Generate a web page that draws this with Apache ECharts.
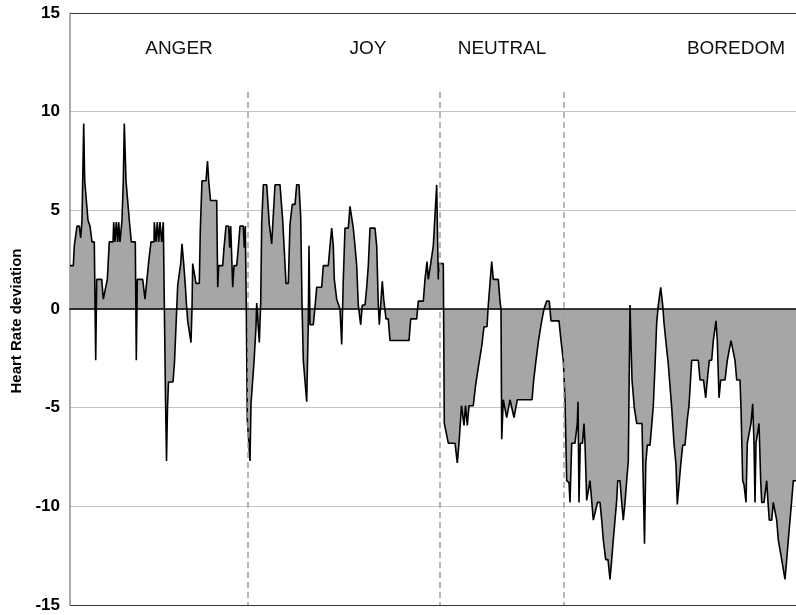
<!DOCTYPE html>
<html>
<head>
<meta charset="utf-8">
<script src="https://cdn.jsdelivr.net/npm/echarts@6/dist/echarts.min.js"></script>
<style>
html,body{margin:0;padding:0;background:#fff;}
#chart{width:796px;height:615px;}
</style>
</head>
<body>
<div id="chart"></div>
<script>
// sample index (time) and heart-rate deviation values
const sampleIndex = [
0,3.3,4.3,6,7,9.3,10.7,12,13.7,14.7,16.7,18,20,22,24.3,25.7,26.7,31.7,33.3,35.3,37.3,39.3,43,43.7,45,46.3,47.7,48.7,50,52,53.3,54.3,56,57.7,59.3,61.3,65.3,66.3,67.3,72.7,75,76.7,78.7,81,84,84.3,86,87.3,88.7,90,91.7,93.3,94.5,
95.5,96.5,97.5,98.5,103,104.5,106,107.7,109,110.7,112,113.7,115.3,116.5,117.7,119,121,122,122.7,124.7,126,129.3,130.3,132,136,137.5,138.7,139.5,140.5,146.7,147.7,148.7,152.7,154,156,158.7,159.7,160.7,162,162.7,164,166.7,168.3,170,173.3,174.3,175.3,176.3,
177.3,178.3,180,181,183,184,186,186.7,187.7,189.3,190.7,191.7,193.3,196.7,199.3,201.7,203.3,205,210,212.7,216,218.3,220,222.3,225,226.7,229,230.7,232,233.3,235,236.7,238.3,239,240,243.3,245,246.7,251.7,253.3,258.3,260,261.7,263.3,264.3,266.7,270,271.7,273.3,275,278.3,280,281.7,283.3,285,286.7,288.3,290.7,292.3,295,296.7,298.3,300,305,306.7,308.3,309.3,311,312.3,313.7,315,316,318.3,320,339,340.7,346.7,348.3,353.3,355,357,358.3,361,363.3,365,366.7,368.3,369,373.3,
374.3,375,378.3,385,387.3,389,391.5,392.3,394,395.5,397.3,399,403.3,405.5,407,408.5,410,411.7,413,414,417,418.3,419.3,421.7,423.3,428.3,430,431,431.7,433.3,435,436.7,438.3,440,442,444,446,447.3,462,463.7,466,468.5,471.7,474,476.7,479.3,481,489,491,493.3,
495,496.7,499,500,501.7,505,507.3,508,509,510.3,512.5,514,515,516.7,518,520,521.7,523.3,525.3,527.5,530,531.7,533.3,535.7,538,540,541.7,543.3,545,546.7,547.7,550,551.7,553.3,555,556.7,558.3,560,560.7,562,564.3,566.7,572,574.5,575.8,577.3,580,581.7,583.3,585,586.7,588.3,590.7,592.7,594,596,598.3,601.7,604,606,607.3,609,610.7,612.7,615,617.3,619,621.7,628.3,630,633.5,635.7,637.3,639.3,641.7,643.3,645,646,647.3,649,650.7,655,657.3,659,661,663,665,666.7,670,671,672.7,674,676,677.3,679,681,682.7,684,685,686,687.5,689,690.7,691.7,694,696.7,698,699.3,701.7,703.3,705,706.7,708.3,710,711.7,713,715,716.7,718.3,720,721.7,723.3,726
];
const hrDeviation = [
2.2,2.2,3.2,3.2,4.2,4.2,3.6,4.5,9.4,6.5,6.5,4.5,4.2,3.4,3.4,-2.6,1.5,1.5,0.5,0.5,1.5,3.4,3.4,4.4,3.4,4.4,3.4,4.4,3.4,4.5,6.5,9.4,6.5,6.5,4.5,3.4,3.4,-2.6,1.5,1.5,0.5,0.5,2.4,3.4,3.4,4.4,3.4,4.4,3.4,4.4,3.4,4.4,4.4,
-4.5,-7.7,-5.0,-3.7,-3.7,-2.7,-2.7,1.2,1.2,2.3,3.3,2.3,1.2,0.2,-0.6,-0.7,-1.7,0,2.3,2.3,1.3,1.3,4.0,6.5,6.5,7.5,6.5,6.5,5.5,5.5,1.1,2.2,2.2,3.1,4.2,4.2,3.1,4.2,2.2,1.1,2.2,2.2,3.1,4.2,4.2,3.1,4.2,0,
-5.6,-5.7,-7.7,-4.8,-4.8,-2.7,-0.9,0.3,0.3,-1.7,0.3,4.3,6.3,6.3,4.3,3.3,3.3,6.3,6.3,4.5,1.3,1.3,4.3,5.3,5.3,6.3,6.3,4.7,0.3,-2.6,-2.6,-4.7,-0.7,3.2,-0.8,-0.8,0.1,1.1,1.1,2.2,2.2,3.2,4.1,3.2,1.5,0.5,0,-1.8,1.5,4.1,4.1,5.2,5.2,4.1,3.2,2.2,0.2,-0.8,0.2,0.2,1.1,2.2,4.1,4.1,3.2,0.2,-0.8,-0.8,1.4,0.5,0.5,-0.5,-0.5,-1.6,-1.6,-0.5,-0.5,0.4,0.4,1.5,2.4,1.5,2.4,3.2,3.2,6.3,1.5,2.3,2.3,
-5.8,-5.8,-6.8,-6.8,-7.8,-6.8,-4.9,-4.9,-5.9,-4.9,-5.9,-4.9,-4.9,-3.9,-3.9,-2.9,-2.9,-1.9,-1.9,-0.9,-0.9,0.2,0.2,2.4,1.5,1.5,0.4,0,-6.6,-4.6,-4.6,-5.5,-5.5,-4.6,-4.6,-5.5,-5.5,-4.6,-4.6,-3.6,-2.6,-1.6,-0.6,0.0,0.4,0.4,-0.6,-0.6,-1.6,-2.6,
-4.6,-8.7,-8.8,-9.8,-6.8,-6.8,-5.8,-4.7,-9.8,-6.8,-6.8,-5.8,-6.8,-9.7,-9.8,-8.7,-8.7,-10.7,-10.7,-9.8,-9.8,-10.7,-11.7,-12.7,-12.7,-13.7,-12.7,-11.7,-10.7,-9.7,-8.7,-8.7,-9.8,-10.7,-9.8,-8.7,-7.7,0.2,0.2,-3.6,-5.0,-5.8,-5.8,-11.9,-7.8,-6.9,-6.9,-5.9,-4.9,-2.9,-0.7,0.2,1.1,0.2,-0.7,-1.7,-2.8,-5.0,-6.8,-7.9,-9.9,-8.9,-7.9,-6.9,-6.9,-5.6,-4.9,-2.6,-2.6,-3.6,-3.6,-4.5,-3.6,-2.6,-2.6,-1.6,-1.6,-0.6,-1.6,-4.5,-3.6,-3.6,-2.6,-2.6,-1.6,-1.6,-2.6,-3.6,-3.6,-5.0,-8.7,-8.9,-9.8,-6.8,-6.8,-5.8,-4.8,-6.8,-9.8,-6.8,-6.8,-5.8,-8.7,-9.8,-9.8,-8.7,-9.8,-10.7,-10.7,-9.8,-9.8,-10.7,-11.7,-11.7,-12.7,-12.7,-13.7,-12.7,-11.7,-10.7,-9.7,-8.7,-8.7
];
const emotionNames = ['ANGER', 'JOY', 'NEUTRAL', 'BOREDOM'];
const emotionLabelX = [109, 298, 432, 666];
const boundaryX = [177.5, 370, 493.5];
const yTicks = [-15, -10, -5, 0, 5, 10, 15];

const seriesData = sampleIndex.map((x, i) => [x, hrDeviation[i]]);

const chart = echarts.init(document.getElementById('chart'), null, {renderer: 'canvas'});
chart.setOption({
  animation: false,
  backgroundColor: '#ffffff',
  grid: {left: 70, right: 0, top: 13, bottom: 10, containLabel: false, outerBoundsMode: 'none'},
  xAxis: {
    type: 'value', min: 0, max: 726,
    axisLine: {show: true, onZero: true, lineStyle: {color: '#000', width: 1.5}},
    axisTick: {show: false}, axisLabel: {show: false}, splitLine: {show: false},
    z: 5
  },
  yAxis: {
    type: 'value', min: yTicks[0], max: yTicks[yTicks.length - 1], interval: 5,
    name: 'Heart Rate deviation', nameLocation: 'middle', nameGap: 46,
    nameTextStyle: {fontFamily: 'Liberation Sans', fontWeight: 'bold', fontSize: 15, color: '#000', padding: [0, 24, 0, 0]},
    axisLine: {show: true, lineStyle: {color: '#8c8c8c', width: 1.5}},
    axisTick: {show: false},
    axisLabel: {fontFamily: 'Liberation Sans', fontWeight: 'bold', fontSize: 17, color: '#000', margin: 10},
    splitLine: {show: true, lineStyle: {color: ['#333', '#c4c4c4', '#c4c4c4', '#c4c4c4', '#c4c4c4', '#c4c4c4', '#333'], width: 1}}
  },
  series: [{
    type: 'line',
    data: seriesData,
    symbol: 'none',
    lineStyle: {color: '#000', width: 1.6},
    areaStyle: {color: '#a6a6a6', opacity: 1},
    z: 3,
    markLine: {
      silent: true, symbol: 'none',
      lineStyle: {color: '#a0a0a0', type: [6, 4], width: 1.5},
      label: {show: false},
      data: boundaryX.map(x => [{coord: [x, 11]}, {coord: [x, -15]}])
    },
    markPoint: {
      symbol: 'circle', symbolSize: 0,
      label: {show: true, formatter: '{b}', fontFamily: 'Liberation Sans', fontSize: 19, color: '#111', position: 'inside'},
      data: emotionNames.map((n, i) => ({name: n, coord: [emotionLabelX[i], 13.2]}))
    }
  }]
});
</script>
</body>
</html>
